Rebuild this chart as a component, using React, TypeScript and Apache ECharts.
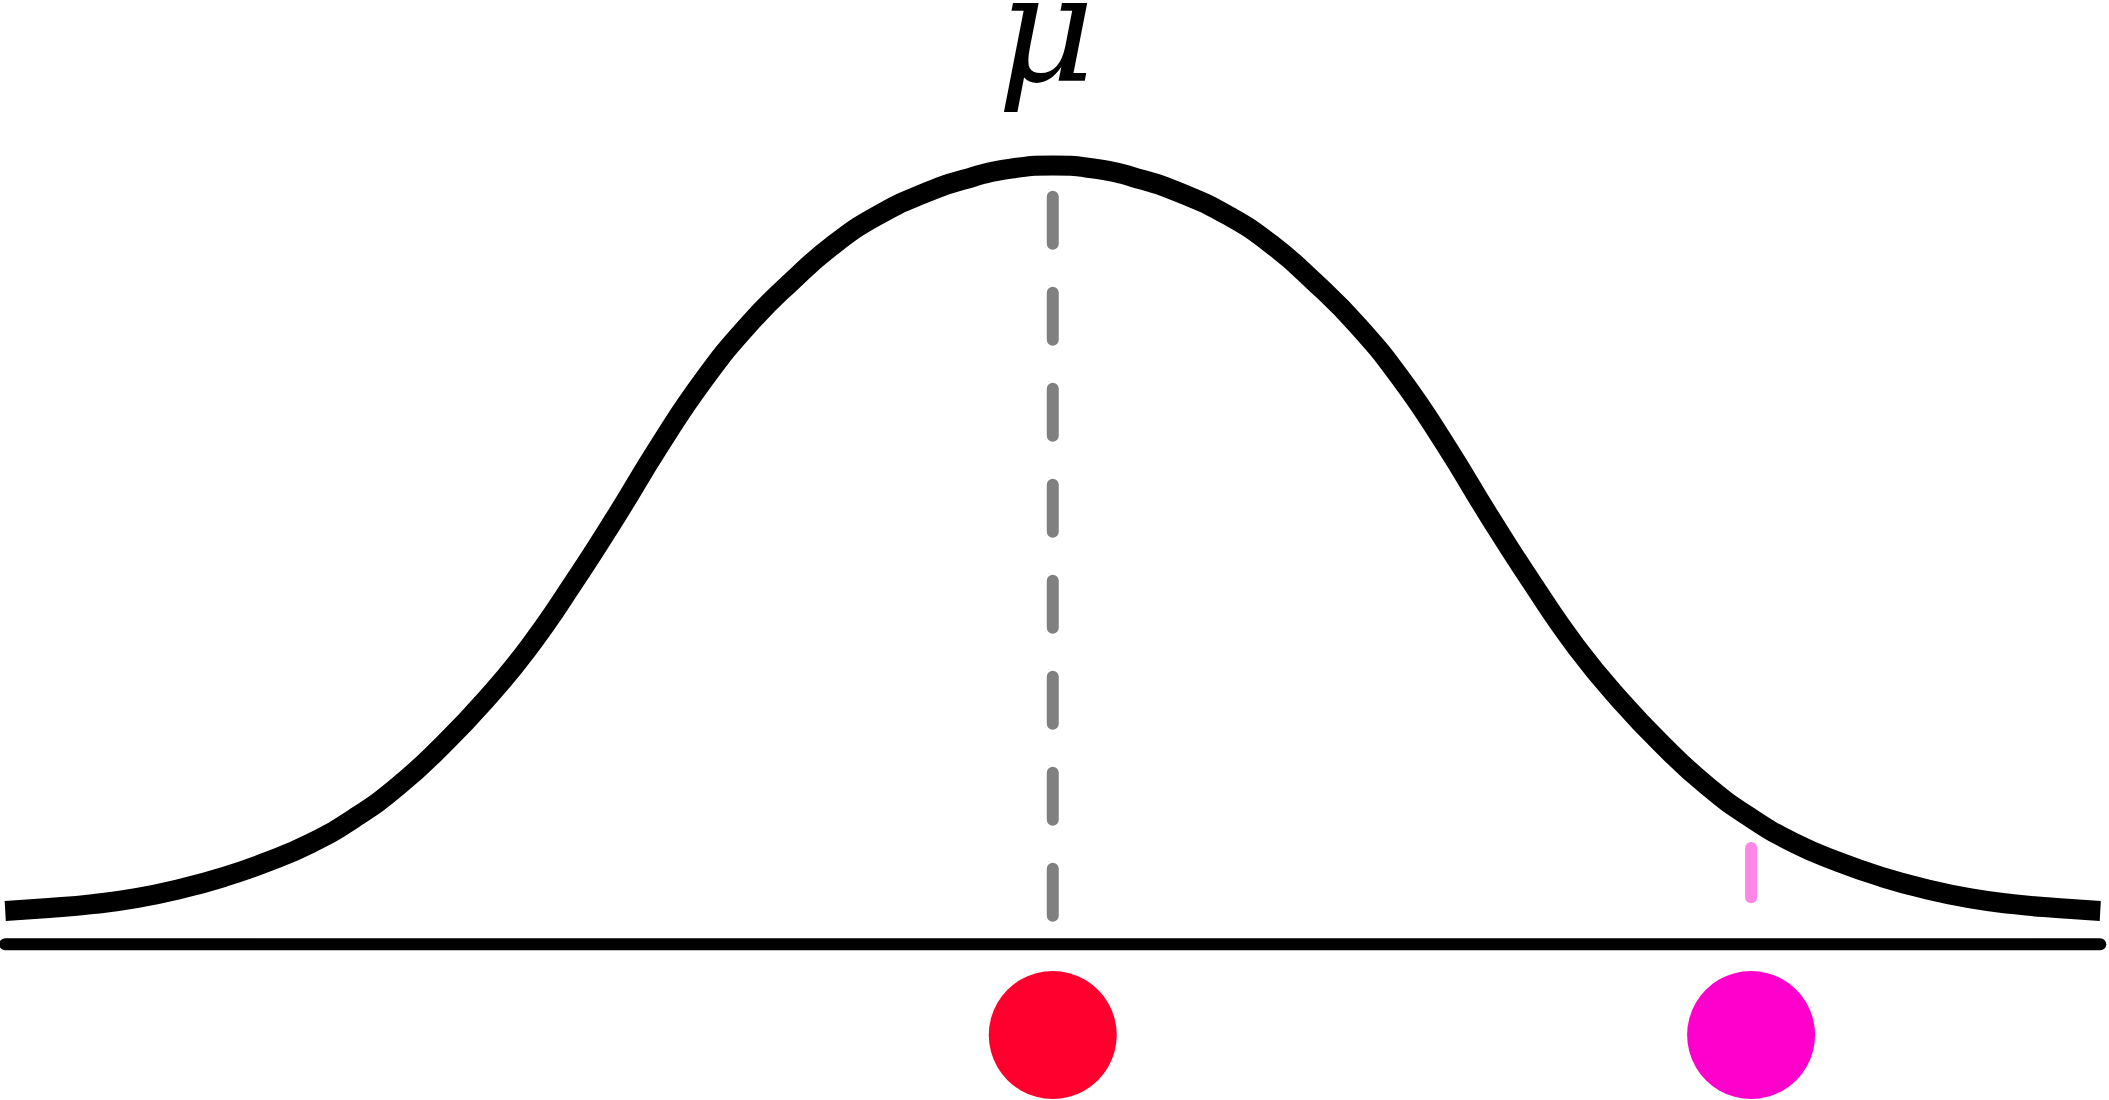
import React, { useEffect, useRef } from "react";
import * as echarts from "echarts";

// Bell curve (x in sigma-like units around the mean, y = height above the axis)
const curveX = [
  -3, -2.875, -2.75, -2.625, -2.5, -2.375, -2.25, -2.125, -2, -1.875, -1.75, -1.625, -1.5, -1.375, -1.25, -1.125, -1,
  -0.875, -0.75, -0.625, -0.5, -0.375, -0.25, -0.125, 0, 0.125, 0.25, 0.375, 0.5, 0.625, 0.75, 0.875, 1, 1.125, 1.25,
  1.375, 1.5, 1.625, 1.75, 1.875, 2, 2.125, 2.25, 2.375, 2.5, 2.625, 2.75, 2.875, 3,
];
const curveY = [
  0.0171, 0.0186, 0.0206, 0.0237, 0.0284, 0.0345, 0.0423, 0.0519, 0.0648, 0.0812, 0.1018, 0.1254, 0.1526, 0.185, 0.2199,
  0.2565, 0.2898, 0.3175, 0.3401, 0.3597, 0.3745, 0.3852, 0.393, 0.3982, 0.4, 0.3982, 0.393, 0.3852, 0.3745, 0.3597,
  0.3401, 0.3175, 0.2898, 0.2565, 0.2199, 0.185, 0.1526, 0.1254, 0.1018, 0.0812, 0.0648, 0.0519, 0.0423, 0.0345, 0.0284,
  0.0237, 0.0206, 0.0186, 0.0171,
];

// Baseline (number line)
const baselineX = [-3, 3];
const baselineY = 0;

// Dashed line at the mean
const meanX = 0;
const meanLineY = [0.384, 0.0145];

// Short pink tick at the sample
const sampleX = 2;
const sampleTickY = [0.0494, 0.0242];

// Dots under the axis
const dotXs = [0, 2];
const dotY = -0.0466;
const dotColors = ["#FF002E", "#FF00CC"];

const muLabel = "μ";

export default function App() {
  const ref = useRef<HTMLDivElement>(null);
  useEffect(() => {
    const chart = echarts.init(ref.current!, null, { renderer: "svg" });
    chart.setOption({
      animation: false,
      backgroundColor: "#ffffff",
      grid: { left: 0, right: 0, top: 0, bottom: 0 },
      xAxis: { type: "value", min: -3.015, max: 3.025, show: false, splitLine: { show: false } },
      yAxis: { type: "value", min: -0.08, max: 0.485, show: false, splitLine: { show: false } },
      graphic: [
        {
          type: "text",
          x: 1046,
          y: 29,
          style: {
            text: muLabel,
            fontFamily: "DejaVu Serif",
            fontStyle: "italic",
            fontSize: 150,
            fill: "#000",
            textAlign: "center",
            textVerticalAlign: "middle",
          },
        },
      ],
      series: [
        {
          type: "line",
          data: baselineX.map((x) => [x, baselineY]),
          symbol: "none",
          lineStyle: { color: "#000", width: 12, cap: "round" },
          silent: true,
        },
        {
          type: "line",
          data: meanLineY.map((y) => [meanX, y]),
          symbol: "none",
          lineStyle: { color: "#808080", width: 12, cap: "round", type: [47, 49] },
          silent: true,
        },
        {
          type: "line",
          data: sampleTickY.map((y) => [sampleX, y]),
          symbol: "none",
          lineStyle: { color: "#FF85E6", width: 12, cap: "round" },
          silent: true,
        },
        {
          type: "line",
          data: curveX.map((x, i) => [x, curveY[i]]),
          symbol: "none",
          smooth: true,
          lineStyle: { color: "#000", width: 20, cap: "butt" },
          silent: true,
        },
        {
          type: "scatter",
          data: dotXs.map((x, i) => ({ value: [x, dotY], itemStyle: { color: dotColors[i], opacity: 1 } })),
          symbol: "circle",
          symbolSize: 128,
          itemStyle: { opacity: 1 },
          silent: true,
        },
      ],
    });
    return () => chart.dispose();
  }, []);
  return (
    <div
      ref={ref}
      style={{ position: "fixed", left: 0, top: 0, width: 2109, height: 1100, background: "#fff" }}
    />
  );
}
